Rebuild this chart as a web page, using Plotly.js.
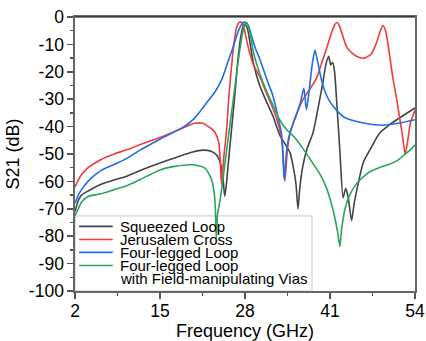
<!DOCTYPE html>
<html>
<head>
<meta charset="utf-8">
<script src="https://cdn.plot.ly/plotly-3.0.1.min.js"></script>
<style>html,body{margin:0;padding:0;background:#fff;}#chart{width:426px;height:341px;}</style>
</head>
<body>
<div id="chart"></div>
<script>
// Series names and colours
const seriesNames = ["Squeezed Loop", "Jerusalem Cross", "Four-legged Loop", "Four-legged Loop<br>with Field-manipulating Vias"];
const legendLines = ["Squeezed Loop", "Jerusalem Cross", "Four-legged Loop", "Four-legged Loop", "with Field-manipulating Vias"];
const seriesColors = ["#444444", "#f03c3c", "#1f6fe3", "#2aa55c"];

// Squeezed Loop
const freqSqueezed = [2,2.5,3,4,6,8,10,12,15,18,20,21.5,22.9,23.7,24.2,24.6,24.9,25.2,25.4,25.9,26.5,26.9,27.3,27.7,28,28.4,28.8,29.3,30.3,31.3,32.3,33.3,34.3,34.9,35.4,35.8,36.1,36.4,36.8,37.5,38.4,39.2,39.9,40.4,40.8,41.1,41.4,41.7,42,42.5,43,43.4,43.8,44.3,44.7,45.2,46.1,47.1,48.6,50,51.2,52.5,54];
const s21Squeezed = [-71,-67,-65,-63.5,-61,-59.5,-58,-56,-53.3,-50.8,-49.3,-48.6,-49.1,-50.5,-53,-58,-65.5,-60,-54.6,-42,-27,-16,-8,-3.5,-2.7,-4.5,-10,-17,-25.4,-31,-36.3,-43,-47,-49.6,-55,-61,-70,-62,-55,-48,-42.3,-33,-24,-17,-14.3,-17.5,-16.5,-20,-30,-48.5,-66,-62.5,-66,-74.3,-68,-62,-53,-48.5,-42.3,-39.5,-37.5,-35.5,-33.2];

// Jerusalem Cross
const freqJerusalem = [2,2.5,3,4,6,8,10,12,15,18.5,20.3,21.5,22.4,23.1,23.6,24,24.2,24.4,24.8,25.2,25.5,25.9,26.3,26.7,27.1,27.4,27.8,28.2,28.7,29.3,30.3,31.3,32.3,33.2,33.7,34.1,34.5,34.9,35.8,36.9,38,38.9,39.7,40.4,41.2,41.7,42,42.4,42.9,43.5,44.5,45.5,46.3,47.3,48.1,48.7,49.1,49.5,50,50.6,51.2,52,52.5,52.9,53.3,54];
const s21Jerusalem = [-62,-59.5,-57.5,-55,-52,-50,-48.4,-46.5,-44,-40.5,-38.8,-38.8,-40,-41.2,-43,-46,-52,-61,-50,-41,-30,-19,-10,-4,-2,-1.8,-3.5,-8,-13,-17.5,-22,-28,-33.5,-40,-46,-60,-48,-42.4,-36,-30,-26,-22.5,-17,-12,-6,-3,-2,-3,-6.5,-10.7,-13.5,-14.8,-15,-13.5,-9.5,-5,-3.1,-5,-12,-22,-30,-42,-50,-45,-38.7,-34];

// Four-legged Loop
const freqFourLeg = [2,2.5,3,4,6,8,10,12,15,18.5,20.3,22.4,23.5,24.5,25.3,26.1,27,27.6,28.1,28.5,29,29.6,30.3,31.3,32.3,33,33.6,34,34.4,34.9,35.8,36.5,37,37.4,37.8,38.3,38.7,39.1,39.6,40.2,41,42,43,44.5,46.1,49,51.5,54];
const s21FourLeg = [-68,-65,-63,-60,-56,-53.8,-51.5,-48.5,-44.6,-40.3,-36.9,-30.5,-27,-22.5,-17,-11.5,-5,-2.3,-1.9,-3,-7,-11.5,-15.6,-22.5,-29,-36,-43,-59.4,-48,-42,-36,-31,-26,-33.8,-27,-17,-12.1,-16,-22,-27,-31,-34,-36.3,-37.8,-38.7,-39.5,-38.8,-37.5];

// Four-legged Loop with Field-manipulating Vias
const freqVias = [2,2.5,3,4,6,8,10,12,15,17,19,20.3,21.9,22.9,23.4,23.6,23.8,24.2,25.2,26.2,27.2,27.8,28.2,28.7,29.3,30.3,31.3,32.3,33.3,34.3,35.6,37,38.4,39.5,40.4,41.2,41.8,42.2,42.5,42.8,43.3,44,45,46,47.1,48.5,50,51.2,52.5,53.3,54];
const s21Vias = [-72.5,-70,-67.5,-65.5,-64.5,-63,-61.5,-59.3,-55.8,-54.6,-54,-54,-55.2,-59.4,-66.7,-80.7,-72,-66.7,-48.5,-30.2,-12,-4,-2.1,-5,-13,-21,-27,-32.3,-37.5,-41,-44,-48.5,-53.5,-57.5,-62,-68,-74,-79,-83.8,-77,-70,-65,-61,-58.5,-56.5,-55,-53.8,-52.5,-50,-48.5,-46.6];

const xTickVals = [2, 15, 28, 41, 54];
const yTickVals = [0, -10, -20, -30, -40, -50, -60, -70, -80, -90, -100];

const freqs = [freqSqueezed, freqJerusalem, freqFourLeg, freqVias];
const vals = [s21Squeezed, s21Jerusalem, s21FourLeg, s21Vias];

const traces = freqs.map((f, i) => ({
  x: f, y: vals[i], type: 'scatter', mode: 'lines', name: seriesNames[i],
  line: {color: seriesColors[i], width: 1.6, shape: 'spline', smoothing: 0.6},
  showlegend: false, hoverinfo: 'skip'
}));

const FONT = "Arial, 'Liberation Sans', sans-serif";

// manual legend (paper coords)
const legX0 = 0.0, legX1 = 0.697, legY0 = 0, legY1 = 0.274;
const lineYs = [0.236, 0.188, 0.141, 0.093];
const textYs = [0.236, 0.188, 0.141, 0.093, 0.046];
const shapes = [{type: 'rect', xref: 'paper', yref: 'paper', x0: legX0, x1: legX1, y0: legY0, y1: legY1,
  line: {color: '#c8c8c8', width: 1}, fillcolor: 'rgba(255,255,255,1)', layer: 'below'},
  {type: 'line', xref: 'paper', yref: 'paper', x0: 0, x1: 1, y0: 1, y1: 1, line: {color: '#111', width: 1.2}, layer: 'above'}];
seriesColors.forEach((c, i) => shapes.push({type: 'line', xref: 'paper', yref: 'paper',
  x0: 0.012, x1: 0.111, y0: lineYs[i], y1: lineYs[i], line: {color: c, width: 1.6}, layer: 'above'}));
const annotations = legendLines.map((t, i) => ({xref: 'paper', yref: 'paper', x: 0.126, y: textYs[i],
  xanchor: 'left', yanchor: 'middle', text: t, showarrow: false, font: {family: FONT, size: 15, color: '#000'}}));

const layout = {
  width: 426, height: 341,
  margin: {l: 75, r: 11, t: 17, b: 50, pad: 0},
  paper_bgcolor: '#fff', plot_bgcolor: '#fff',
  font: {family: FONT, size: 17, color: '#000'},
  showlegend: false,
  xaxis: {range: [2, 54], tickvals: xTickVals, ticktext: xTickVals.map(String),
    showgrid: false, zeroline: false, showline: true, linecolor: '#666', linewidth: 1.6, mirror: true,
    ticks: 'outside', ticklen: 6, tickcolor: '#555', tickwidth: 1.5, ticklabelstandoff: -3,
    minor: {dtick: 6.5, tick0: 2, ticks: 'outside', ticklen: 3, tickcolor: '#555', showgrid: false},
    tickfont: {family: FONT, size: 17.5}, automargin: false,
    title: {text: 'Frequency (GHz)', font: {family: FONT, size: 18}, standoff: 2}},
  yaxis: {range: [-100, 0], tickvals: yTickVals, ticktext: yTickVals.map(String),
    showgrid: false, zeroline: false, showline: true, linecolor: '#666', linewidth: 1.6, mirror: true,
    ticks: 'outside', ticklen: 6, tickcolor: '#555', tickwidth: 1.5,
    minor: {dtick: 5, ticks: 'outside', ticklen: 3, tickcolor: '#555', showgrid: false},
    tickfont: {family: FONT, size: 17.5}, automargin: false,
    title: {text: 'S21 (dB)', font: {family: FONT, size: 18}, standoff: 4}},
  shapes: shapes,
  annotations: annotations
};

Plotly.newPlot('chart', traces, layout, {staticPlot: true, displayModeBar: false});
</script>
</body>
</html>
